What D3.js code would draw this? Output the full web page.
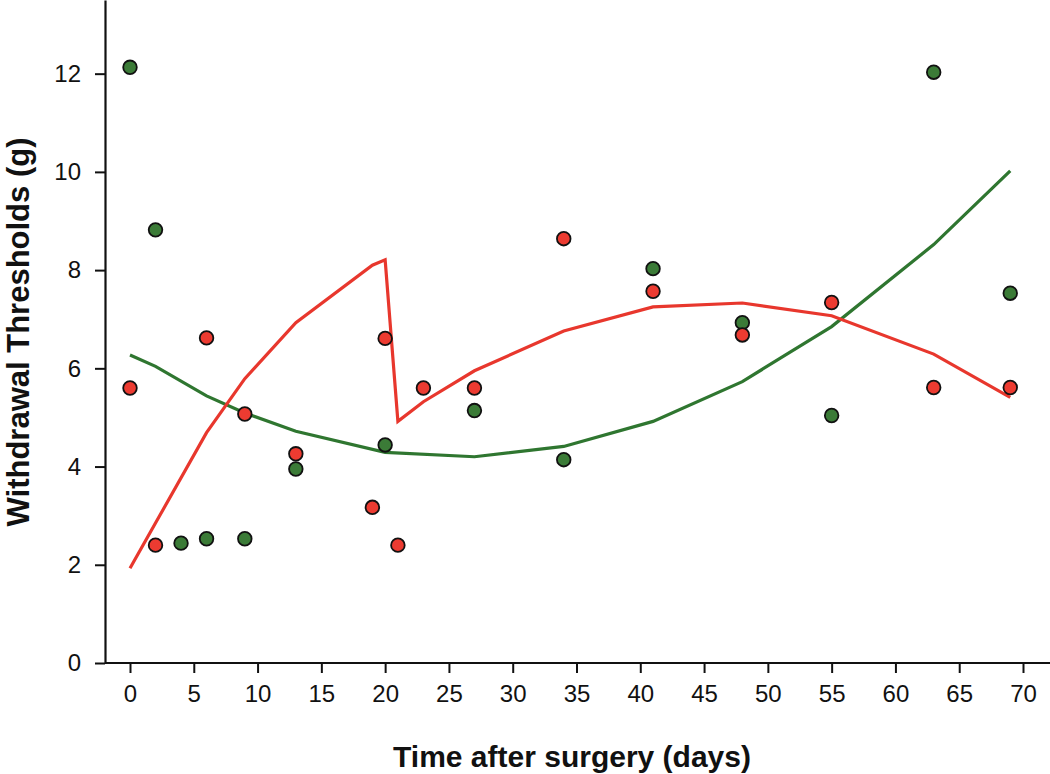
<!DOCTYPE html>
<html>
<head>
<meta charset="utf-8">
<script src="https://cdn.jsdelivr.net/npm/d3@7"></script>
<style>
  body { margin: 0; background: #fff; }
  svg { display: block; }
</style>
</head>
<body>
<svg id="chart" width="1050" height="774"></svg>
<script>
// points (days, grams)
var greenDays = [0, 2, 4, 6, 9, 13, 20, 27, 34, 41, 48, 55, 63, 69];
var greenVals = [12.13, 8.82, 2.44, 2.53, 2.53, 3.95, 4.44, 5.14, 4.14, 8.03, 6.93, 5.04, 12.03, 7.53];
var redDays = [0, 2, 6, 9, 13, 19, 20, 21, 23, 27, 34, 41, 48, 55, 63, 69];
var redVals = [5.6, 2.4, 6.62, 5.07, 4.26, 3.17, 6.61, 2.4, 5.6, 5.6, 8.64, 7.57, 6.68, 7.34, 5.61, 5.61];

// fitted curves
var greenLineDays = [0, 2, 6, 9, 13, 20, 27, 34, 41, 48, 55, 63, 69];
var greenLineVals = [6.27, 6.04, 5.44, 5.09, 4.72, 4.29, 4.2, 4.41, 4.92, 5.73, 6.85, 8.52, 10.02];
var redLineDays = [0, 2, 6, 9, 13, 19, 20, 21, 23, 27, 34, 41, 48, 55, 63, 69];
var redLineVals = [1.93, 2.85, 4.69, 5.79, 6.93, 8.1, 8.21, 4.92, 5.32, 5.95, 6.76, 7.25, 7.33, 7.07, 6.29, 5.41];

var xTicks = d3.range(0, 71, 5);
var yTicks = [0, 2, 4, 6, 8, 10, 12];

var green = "#3b7b37", greenLine = "#2f7630";
var red = "#ec3b31", redLine = "#e8372d";

var svg = d3.select("#chart");
var x = d3.scaleLinear().domain([0, 70]).range([130, 1023]);
var y = d3.scaleLinear().domain([0, 13.5]).range([663, 0]);

var xAxis = function (g) {
  g.attr("transform", "translate(0," + y(0) + ")")
    .call(d3.axisBottom(x).tickValues(xTicks).tickSize(10).tickPadding(12).tickSizeOuter(0))
    .call(function (g) { g.select(".domain").remove(); });
  g.append("line").attr("x1", 105).attr("x2", 1050).attr("stroke", "#111").attr("stroke-width", 2.2);
  g.selectAll(".tick line").attr("stroke", "#111").attr("stroke-width", 2);
  g.selectAll("text").attr("font-size", "24px").attr("fill", "#111")
    .style("font-family", "'Liberation Sans', Arial, sans-serif");
};
var yAxis = function (g) {
  g.attr("transform", "translate(105,0)")
    .call(d3.axisLeft(y).tickValues(yTicks).tickSize(10).tickPadding(14).tickSizeOuter(0));
  g.select(".domain").attr("stroke", "#111").attr("stroke-width", 2.2);
  g.selectAll(".tick line").attr("stroke", "#111").attr("stroke-width", 2);
  g.selectAll("text").attr("font-size", "24px").attr("fill", "#111")
    .style("font-family", "'Liberation Sans', Arial, sans-serif");
};
svg.append("g").call(xAxis);
svg.append("g").call(yAxis);

var line = d3.line().x(function (d) { return x(d[0]); }).y(function (d) { return y(d[1]); });

svg.append("path")
  .datum(d3.zip(greenLineDays, greenLineVals))
  .attr("fill", "none").attr("stroke", greenLine).attr("stroke-width", 3.2)
  .attr("d", line);
svg.append("path")
  .datum(d3.zip(redLineDays, redLineVals))
  .attr("fill", "none").attr("stroke", redLine).attr("stroke-width", 3.2)
  .attr("d", line);

function dots(days, vals, fill) {
  svg.append("g")
    .selectAll("circle")
    .data(d3.zip(days, vals))
    .join("circle")
    .attr("cx", function (d) { return x(d[0]); })
    .attr("cy", function (d) { return y(d[1]); })
    .attr("r", 6.8)
    .attr("fill", fill)
    .attr("stroke", "#111")
    .attr("stroke-width", 1.8);
}
dots(greenDays, greenVals, green);
dots(redDays, redVals, red);

svg.append("text")
  .attr("x", 572).attr("y", 767)
  .attr("text-anchor", "middle")
  .style("font", "bold 30px 'Liberation Sans', Arial, sans-serif")
  .attr("fill", "#111")
  .text("Time after surgery (days)");
svg.append("text")
  .attr("transform", "translate(29,332) rotate(-90)")
  .attr("text-anchor", "middle")
  .style("font", "bold 31px 'Liberation Sans', Arial, sans-serif")
  .attr("fill", "#111")
  .text("Withdrawal Thresholds (g)");
</script>
</body>
</html>
